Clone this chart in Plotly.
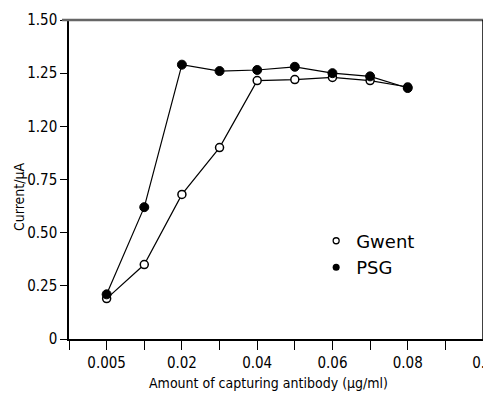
import plotly.graph_objects as go

# Data
x_categories = ["0", "0.005", "0.01", "0.02", "0.03", "0.04", "0.05", "0.06", "0.07", "0.08", "0.09", "0.1"]
x_tick_labels = ["", "0.005", "", "0.02", "", "0.04", "", "0.06", "", "0.08", "", "0.1"]
concentrations = ["0.005", "0.01", "0.02", "0.03", "0.04", "0.05", "0.06", "0.07", "0.08"]
gwent = [0.19, 0.35, 0.68, 0.90, 1.215, 1.22, 1.23, 1.215, 1.185]
psg = [0.21, 0.62, 1.29, 1.26, 1.265, 1.28, 1.25, 1.235, 1.18]
y_tick_vals = [0, 0.25, 0.5, 0.75, 1.0, 1.25, 1.5]
y_tick_labels = ["0", "0.25", "0.50", "0.75", "1.20", "1.25", "1.50"]
x_title = "Amount of capturing antibody (\u00b5g/ml)"
y_title = "Current/\u00b5A"

FONT = "DejaVu Sans Condensed, Liberation Sans Narrow, sans-serif"
LEG_FONT = "DejaVu Sans, Verdana, sans-serif"

fig = go.Figure()

fig.add_trace(go.Scatter(
    x=concentrations, y=gwent, mode="lines+markers", showlegend=False,
    line=dict(color="black", width=1.2),
    marker=dict(symbol="circle", size=8, color="white", line=dict(color="black", width=1.5)),
))
fig.add_trace(go.Scatter(
    x=concentrations, y=psg, mode="lines+markers", showlegend=False,
    line=dict(color="black", width=1.2),
    marker=dict(symbol="circle", size=9, color="black", line=dict(color="black", width=1)),
))
# legend entries (markers only)
fig.add_trace(go.Scatter(
    x=[None], y=[None], mode="markers", name="Gwent",
    marker=dict(symbol="circle", size=6, color="white", line=dict(color="black", width=1.3)),
))
fig.add_trace(go.Scatter(
    x=[None], y=[None], mode="markers", name="PSG",
    marker=dict(symbol="circle", size=7, color="black"),
))

# page body has an 8px default margin, so the figure is sized/offset to compensate
fig.update_layout(
    width=483, height=393,
    margin=dict(l=61, r=8, t=12, b=62, autoexpand=False),
    paper_bgcolor="white", plot_bgcolor="white",
    font=dict(family=FONT, size=14, color="black"),
    legend=dict(
        x=0.597, y=0.365, xanchor="left", yanchor="top",
        bgcolor="rgba(0,0,0,0)", borderwidth=0,
        font=dict(family=LEG_FONT, size=18, color="black"),
        tracegroupgap=0, itemwidth=30,
    ),
    xaxis=dict(
        type="category", categoryorder="array", categoryarray=x_categories,
        range=[0, len(x_categories) - 1], automargin=False,
        tickmode="array", tickvals=x_categories, ticktext=x_tick_labels,
        ticks="outside", ticklen=9, tickwidth=1.3, tickcolor="black",
        showline=True, linecolor="black", linewidth=1.5,
        showgrid=False, zeroline=False,
        tickfont=dict(family=FONT, size=15),
    ),
    yaxis=dict(
        range=[0, 1.5], automargin=False,
        tickmode="array", tickvals=y_tick_vals, ticktext=y_tick_labels,
        ticks="outside", ticklen=7, tickwidth=1.3, tickcolor="black",
        showline=True, linecolor="black", linewidth=1.5,
        showgrid=False, zeroline=False,
        tickfont=dict(family=FONT, size=15),
    ),
    annotations=[
        dict(text=x_title, xref="paper", yref="paper", x=0.482, y=-0.138,
             xanchor="center", yanchor="middle", showarrow=False,
             font=dict(family=FONT, size=14)),
        dict(text=y_title, xref="paper", yref="paper", x=-0.121, y=0.448,
             xanchor="center", yanchor="middle", showarrow=False, textangle=-90,
             font=dict(family=FONT, size=14)),
    ],
    shapes=[
        dict(type="line", xref="paper", yref="paper", x0=-0.017, x1=1.002, y0=1, y1=1,
             line=dict(color="#666666", width=2.5)),
        dict(type="line", xref="paper", yref="paper", x0=1, x1=1, y0=0, y1=1,
             line=dict(color="black", width=1.5)),
    ],
)

fig.write_html("out.html")
